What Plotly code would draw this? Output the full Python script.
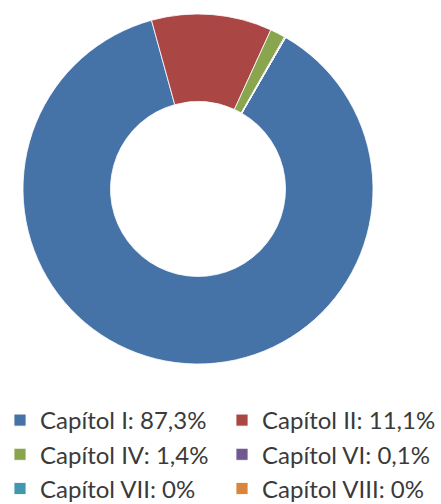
import plotly.graph_objects as go

categories = ["Capítol I", "Capítol II", "Capítol IV", "Capítol VI", "Capítol VII", "Capítol VIII"]
values = [87.3, 11.1, 1.4, 0.1, 0.0, 0.0]
value_labels = ["87,3%", "11,1%", "1,4%", "0,1%", "0%", "0%"]
colors = ["#4572A7", "#AA4643", "#89A54E", "#71588F", "#4198AF", "#DB843D"]

legend_labels = [f"{c}: {v}" for c, v in zip(categories, value_labels)]

W, H = 441, 504

fig = go.Figure(
    go.Pie(
        labels=legend_labels,
        values=values,
        hole=0.5,
        sort=False,
        direction="clockwise",
        rotation=30,
        textinfo="none",
        marker=dict(colors=colors, line=dict(color="white", width=0.8)),
        domain=dict(x=[23 / W, 373 / W], y=[1 - 364 / H, 1 - 14 / H]),
    )
)

fig.update_layout(
    width=W,
    height=H,
    margin=dict(l=0, r=0, t=0, b=0, autoexpand=False),
    paper_bgcolor="white",
    plot_bgcolor="white",
    showlegend=True,
    legend=dict(
        orientation="h",
        x=0,
        xanchor="left",
        y=1 - 398 / H,
        yanchor="top",
        entrywidth=177,
        entrywidthmode="pixels",
        font=dict(family="Lato", size=24, color="#3a3a3a"),
        itemclick=False,
        itemdoubleclick=False,
        traceorder="normal",
    ),
)

fig.write_html(
    "out.html",
    config={"displayModeBar": False},
    post_script="document.body.style.margin='0';document.body.style.padding='0';",
)
